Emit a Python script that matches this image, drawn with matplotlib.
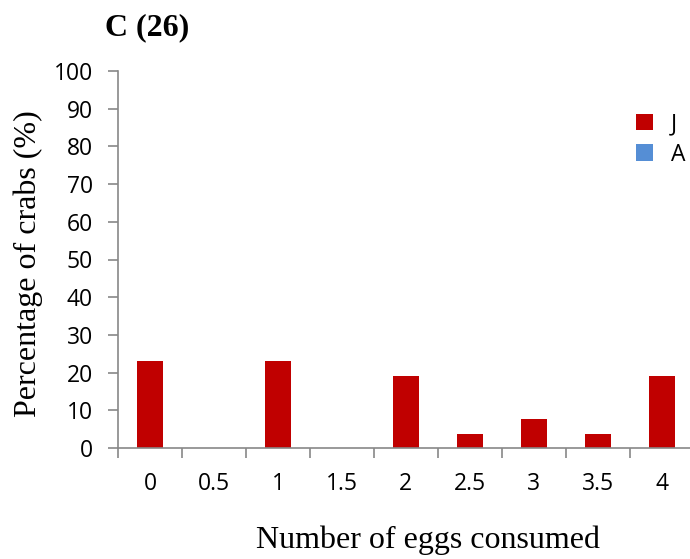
import numpy as np
from matplotlib import pyplot as plt
from matplotlib.ticker import FixedLocator, NullFormatter

eggs = ['0', '0.5', '1', '1.5', '2', '2.5', '3', '3.5', '4']
juveniles = [23.1, 0, 23.1, 0, 19.2, 3.8, 7.7, 3.8, 19.2]
adults = [0, 0, 0, 0, 0, 0, 0, 0, 0]

x = np.arange(len(eggs))

fig = plt.figure(figsize=(6.9, 5.59), dpi=100)
ax = fig.add_axes([118 / 690, 111 / 559, 572 / 690, 377 / 559])

ax.bar(x, juveniles, width=0.4, color='#c00000', label='J')
ax.bar(x, adults, width=0.4, color='#558ed5', label='A')

ax.set_xlim(-0.5, 8.44)
ax.set_ylim(0, 100)
ax.set_yticks(range(0, 101, 10))
ax.set_xticks(x)
ax.set_xticklabels(eggs)
ax.xaxis.set_minor_locator(FixedLocator(np.arange(-0.5, 8.5, 1)))
ax.xaxis.set_minor_formatter(NullFormatter())

for side in ['top', 'right']:
    ax.spines[side].set_visible(False)
for side in ['left', 'bottom']:
    ax.spines[side].set_color('#888888')
    ax.spines[side].set_linewidth(1.2)

ax.tick_params(axis='y', direction='out', length=7, color='#888888', width=1.2,
               labelsize=16.5, pad=11)
ax.tick_params(axis='x', which='major', length=0, labelsize=16.5, pad=17)
ax.tick_params(axis='x', which='minor', direction='out', length=7,
               color='#888888', width=1.2)
for lab in ax.get_xticklabels() + ax.get_yticklabels():
    lab.set_fontfamily('Open Sans')

ax.set_xlabel('Number of eggs consumed', fontsize=23, family='Liberation Serif')
ax.set_ylabel('Percentage of crabs (%)', fontsize=23, family='Liberation Serif')
ax.xaxis.set_label_coords(0.542, -0.205)
ax.yaxis.set_label_coords(-0.131, 0.49)

fig.text(105 / 690, 1 - 28 / 559, 'C (26)', fontsize=23, fontweight='bold',
         family='Liberation Serif', va='center', ha='left')

leg = ax.legend(loc='upper left', bbox_to_anchor=(0.869, 0.946), frameon=False,
                handlelength=0.75, handleheight=0.75, handletextpad=0.8,
                labelspacing=0.3, prop={'family': 'Open Sans', 'size': 16.5})

fig.savefig('out.png', dpi=100)
